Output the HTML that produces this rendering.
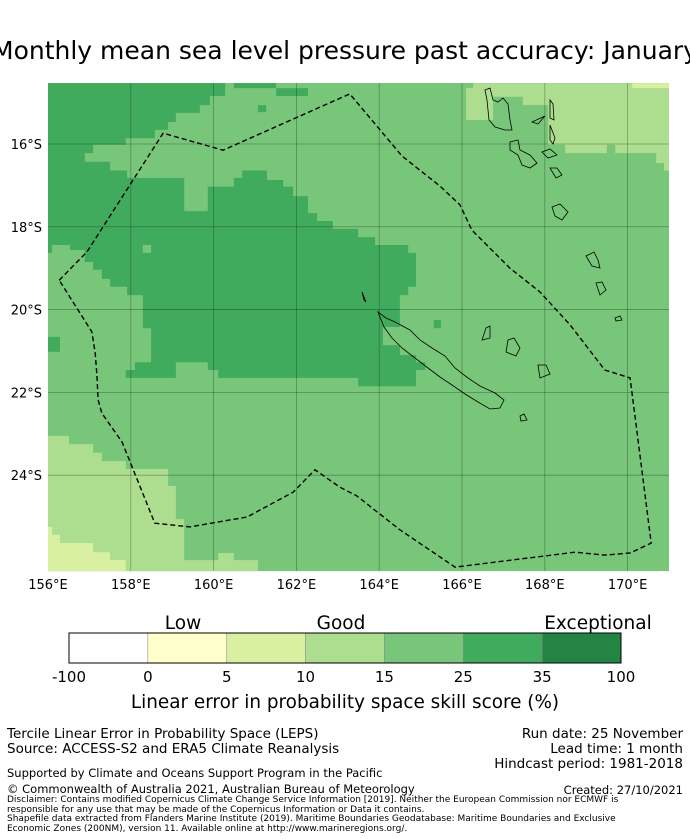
<!DOCTYPE html>
<html><head><meta charset="utf-8">
<style>
body{margin:0;background:#fff;width:690px;height:839px;overflow:hidden;position:relative;font-family:"DejaVu Sans","Liberation Sans",sans-serif;}
.t{position:absolute;white-space:nowrap;color:#000;}
</style></head>
<body>
<div class="t" style="left:345px;top:36px;font-size:25px;transform:translateX(-50%);">Monthly mean sea level pressure past accuracy: January</div>
<svg id="map" width="690" height="839" style="position:absolute;left:0;top:0">
</svg>
<div class="t" style="left:183px;top:613px;font-size:18.5px;transform:translateX(-50%)">Low</div>
<div class="t" style="left:341px;top:613px;font-size:18.5px;transform:translateX(-50%)">Good</div>
<div class="t" style="left:598px;top:613px;font-size:18.5px;transform:translateX(-50%)">Exceptional</div>
<div class="t" style="left:345px;top:692px;font-size:18.4px;transform:translateX(-50%)">Linear error in probability space skill score (%)</div>
<div class="t" style="left:7px;top:726px;font-size:13.5px">Tercile Linear Error in Probability Space (LEPS)</div>
<div class="t" style="left:7px;top:741px;font-size:13.5px">Source: ACCESS-S2 and ERA5 Climate Reanalysis</div>
<div class="t" style="right:7px;top:726px;font-size:13.5px">Run date: 25 November</div>
<div class="t" style="right:7px;top:741px;font-size:13.5px">Lead time: 1 month</div>
<div class="t" style="right:7px;top:756px;font-size:13.5px">Hindcast period: 1981-2018</div>
<div class="t" style="left:7px;top:766px;font-size:11.5px">Supported by Climate and Oceans Support Program in the Pacific</div>
<div class="t" style="left:7px;top:782px;font-size:11.5px">© Commonwealth of Australia 2021, Australian Bureau of Meteorology</div>
<div class="t" style="right:7px;top:783px;font-size:11.5px">Created: 27/10/2021</div>
<div class="t" style="left:7px;top:796px;font-size:9px;line-height:9.5px;white-space:normal;width:640px">Disclaimer: Contains modified Copernicus Climate Change Service Information [2019]. Neither the European Commission nor ECMWF is responsible for any use that may be made of the Copernicus Information or Data it contains.<br>Shapefile data extracted from Flanders Marine Institute (2019). Maritime Boundaries Geodatabase: Maritime Boundaries and Exclusive Economic Zones (200NM), version 11. Available online at http://www.marineregions.org/.</div>
<script>
const lonTicks=[156,158,160,162,164,166,168,170];
const latTicks=[16,18,20,22,24];
const cbBounds=["-100","0","5","10","15","25","35","100"];
const cbColors=["#ffffff","#ffffcc","#d9f0a3","#addd8e","#78c679","#41ab5d","#238443"];
const baseColor="#78c679";
const darkRegion=[[156,14.53],[160.28,14.53],[160.28,14.84],[159.91,14.84],[159.91,15.06],[159.67,15.06],[159.67,15.25],[159.09,15.25],[159.09,15.47],[158.9,15.47],[158.9,15.66],[158.58,15.66],[158.58,15.86],[157.88,15.86],[157.88,16.02],[157.09,16.02],[157.09,16.22],[156.89,16.22],[156.89,16.43],[157.5,16.43],[157.5,16.64],[157.91,16.64],[157.91,16.82],[159.29,16.82],[159.29,17.62],[159.86,17.62],[159.86,17.03],[160.49,17.03],[160.49,16.82],[160.69,16.82],[160.69,16.64],[161.29,16.64],[161.29,16.87],[161.68,16.87],[161.68,17.03],[161.92,17.03],[161.92,17.26],[162.28,17.26],[162.28,17.67],[162.5,17.67],[162.5,17.86],[162.88,17.86],[162.88,18.05],[163.49,18.05],[163.49,18.25],[163.9,18.25],[163.9,18.44],[164.7,18.44],[164.7,18.63],[164.89,18.63],[164.89,19.45],[164.7,19.45],[164.7,19.65],[164.5,19.65],[164.5,20.42],[164.09,20.42],[164.09,20.86],[164.5,20.86],[164.5,21.1],[164.89,21.1],[164.89,21.27],[165.11,21.27],[165.11,21.46],[164.89,21.46],[164.89,21.85],[163.49,21.85],[163.49,21.65],[160.11,21.65],[160.11,21.46],[159.86,21.46],[159.86,21.27],[159.09,21.27],[159.09,21.65],[157.88,21.65],[157.88,21.46],[158.1,21.46],[158.1,21.27],[158.49,21.27],[158.49,20.45],[158.29,20.45],[158.29,19.65],[157.91,19.65],[157.91,19.45],[157.5,19.45],[157.5,19.26],[157.3,19.26],[157.3,19.04],[157.09,19.04],[157.09,18.85],[156.89,18.85],[156.89,18.56],[156.53,18.56],[156.53,18.44],[156.1,18.44],[156.1,18.63],[156,18.63]];
const darkBits=[[[160.49,14.53],[161.51,14.53],[161.51,14.65],[160.49,14.65]],[[161.51,14.65],[162.28,14.65],[162.28,14.84],[161.51,14.84]],[[161.07,15.06],[161.27,15.06],[161.27,15.23],[161.07,15.23]],[[165.32,20.25],[165.49,20.25],[165.49,20.45],[165.32,20.45]],[[156,20.66],[156.29,20.66],[156.29,21.02],[156,21.02]]];
const baseHoles=[[[158.29,18.44],[158.49,18.44],[158.49,18.63],[158.29,18.63]]];
const lightRegions=[[[166.27,14.53],[171,14.53],[171,16.64],[170.88,16.64],[170.88,16.46],[170.69,16.46],[170.69,16.22],[169.7,16.22],[169.7,16.02],[169.5,16.02],[169.5,16.22],[168.49,16.22],[168.49,16.02],[168.08,16.02],[168.08,15.06],[167.47,15.06],[167.47,14.86],[166.75,14.86],[166.75,15.42],[166.1,15.42],[166.1,14.65],[166.27,14.65]],
[[156,23.05],[156.51,23.05],[156.51,23.25],[157.09,23.25],[157.09,23.46],[157.3,23.46],[157.3,23.66],[157.88,23.66],[157.88,23.85],[158.9,23.85],[158.9,24.26],[159.09,24.26],[159.09,25.06],[159.29,25.06],[159.29,26.05],[160.11,26.05],[160.11,25.88],[160.49,25.88],[160.49,26.05],[161.07,26.05],[161.07,26.32],[156,26.32]]];
const vLightRegions=[[[156,25.25],[156.1,25.25],[156.1,25.44],[156.29,25.44],[156.29,25.64],[157.09,25.64],[157.09,25.86],[157.5,25.86],[157.5,26.05],[157.88,26.05],[157.88,26.32],[156,26.32]],[[170.11,14.53],[171,14.53],[171,14.65],[170.11,14.65]]];
const eez=[[156.27,19.29],[156.7,18.85],[156.94,18.61],[158.78,15.74],[160.23,16.15],[163.29,14.79],[164.55,16.29],[165.47,17.02],[165.95,17.47],[166.24,18.08],[167.16,19.0],[167.88,19.57],[168.61,20.37],[169.45,21.46],[170.06,21.65],[170.57,25.64],[170.06,25.88],[169.45,25.93],[168.73,25.86],[165.83,26.22],[164.5,25.32],[163.46,24.5],[163.05,24.29],[162.45,23.87],[161.92,24.41],[160.81,25.01],[159.43,25.25],[158.58,25.16],[157.79,23.2],[157.3,22.5],[157.21,22.18],[157.18,21.58],[157.14,21.05],[157.06,20.54],[156.27,19.29]];

const X0=48,PX=41.4,Y0=83,LAT0=14.527;
function xs(lon){return X0+(lon-156)*PX;}
function ys(lat){return Y0+(lat-LAT0)*PX;}
const NS="http://www.w3.org/2000/svg";
const FF="DejaVu Sans, Liberation Sans, sans-serif";
const svg=document.getElementById('map');
function mk(tag,attrs){const e=document.createElementNS(NS,tag);for(const k in attrs)e.setAttribute(k,attrs[k]);svg.appendChild(e);return e;}
function pts(p){return p.map(q=>xs(q[0]).toFixed(1)+","+ys(q[1]).toFixed(1)).join(" ");}
const x1=xs(156),x2=xs(171),y1=ys(LAT0),y2=ys(26.32);
const defs=mk('defs',{});
const clip=document.createElementNS(NS,'clipPath');clip.setAttribute('id','mc');defs.appendChild(clip);
const cr=document.createElementNS(NS,'rect');cr.setAttribute('x',x1);cr.setAttribute('y',y1);cr.setAttribute('width',x2-x1);cr.setAttribute('height',y2-y1);clip.appendChild(cr);
const g=mk('g',{'clip-path':'url(#mc)'});
function poly(p,fill,name){const e=document.createElementNS(NS,'polygon');e.setAttribute('points',pts(p));e.setAttribute('fill',fill);


g.appendChild(e);}
const bg=document.createElementNS(NS,'rect');bg.setAttribute('x',x1);bg.setAttribute('y',y1);bg.setAttribute('width',x2-x1);bg.setAttribute('height',y2-y1);bg.setAttribute('fill',baseColor);


g.appendChild(bg);
poly(darkRegion,cbColors[5],'skill-25-35-region');
darkBits.forEach(p=>poly(p,cbColors[5],'skill-25-35-cell'));
baseHoles.forEach(p=>poly(p,baseColor,'skill-15-25-cell'));
lightRegions.forEach(p=>poly(p,cbColors[3],'skill-10-15-region'));
vLightRegions.forEach(p=>poly(p,cbColors[2],'skill-5-10-region'));
lonTicks.forEach(l=>{if(l>156){const e=document.createElementNS(NS,'line');e.setAttribute('x1',xs(l));e.setAttribute('x2',xs(l));e.setAttribute('y1',y1);e.setAttribute('y2',y2);e.setAttribute('stroke','rgba(0,0,0,0.3)');e.setAttribute('stroke-width','0.8');


g.appendChild(e);}});
latTicks.forEach(l=>{const e=document.createElementNS(NS,'line');e.setAttribute('x1',x1);e.setAttribute('x2',x2);e.setAttribute('y1',ys(l));e.setAttribute('y2',ys(l));e.setAttribute('stroke','rgba(0,0,0,0.3)');e.setAttribute('stroke-width','0.8');


g.appendChild(e);});
const coast=document.createElementNS(NS,'path');
coast.setAttribute('d','M378,312 L386,318 L395,322 L410,330 L420,340 L432,348 L445,356 L455,368 L468,378 L480,386 L495,393 L504,400 L500,408 L490,409 L478,402 L465,394 L452,385 L440,377 L428,368 L415,358 L402,348 L392,338 L384,327 Z M362,292 L366,302 L364,300 Z M485,90 L490,88 L493,100 L498,102 L503,98 L508,104 L510,120 L512,130 L505,130 L495,127 L489,120 L487,100 Z M510,142 L518,140 L520,150 L530,155 L537,163 L530,168 L522,165 L518,155 L510,150 Z M532,122 L545,116 L538,124 Z M550,100 L553,104 L554,120 L550,118 Z M550,125 L555,138 L553,144 L550,140 Z M542,152 L550,149 L557,155 L548,158 Z M550,168 L557,168 L562,175 L556,178 Z M552,207 L560,204 L568,212 L562,220 L555,216 Z M586,256 L594,252 L598,260 L600,268 L592,266 Z M596,283 L602,282 L606,290 L600,295 Z M486,328 L490,326 L490,338 L482,340 Z M508,340 L514,338 L520,348 L516,356 L506,352 Z M538,365 L546,365 L550,374 L540,378 Z M520,416 L524,414 L527,420 L521,421 Z M615,318 L620,316 L622,320 L616,321 Z');
coast.setAttribute('fill','none');coast.setAttribute('stroke','#000');coast.setAttribute('stroke-width','0.8');


g.appendChild(coast);
const eezl=document.createElementNS(NS,'polyline');eezl.setAttribute('points',pts(eez));eezl.setAttribute('fill','none');eezl.setAttribute('stroke','#000');eezl.setAttribute('stroke-width','1.4');eezl.setAttribute('stroke-dasharray','5,3');


g.appendChild(eezl);
lonTicks.forEach(l=>{const t=mk('text',{x:xs(l),y:589,'font-size':'13','text-anchor':'middle','font-family':FF});t.textContent=l+"°E";

});
latTicks.forEach(l=>{const t=mk('text',{x:42,y:ys(l)+5,'font-size':'13','text-anchor':'end','font-family':FF});t.textContent=l+"°S";

});
const cbX0=69,cbX1=621,cbY=633,cbH=30,segW=(cbX1-cbX0)/cbColors.length;
cbColors.forEach((c,i)=>{const r=mk('rect',{x:cbX0+i*segW,y:cbY,width:segW,height:cbH,fill:c,stroke:'#888','stroke-width':'0.5'});

});
mk('rect',{x:cbX0,y:cbY,width:cbX1-cbX0,height:cbH,fill:'none',stroke:'#000','stroke-width':'1'});
cbBounds.forEach((b,i)=>{const t=mk('text',{x:cbX0+i*segW,y:682,'font-size':'15','text-anchor':'middle','font-family':FF});t.textContent=b;

});
</script>
</body></html>
